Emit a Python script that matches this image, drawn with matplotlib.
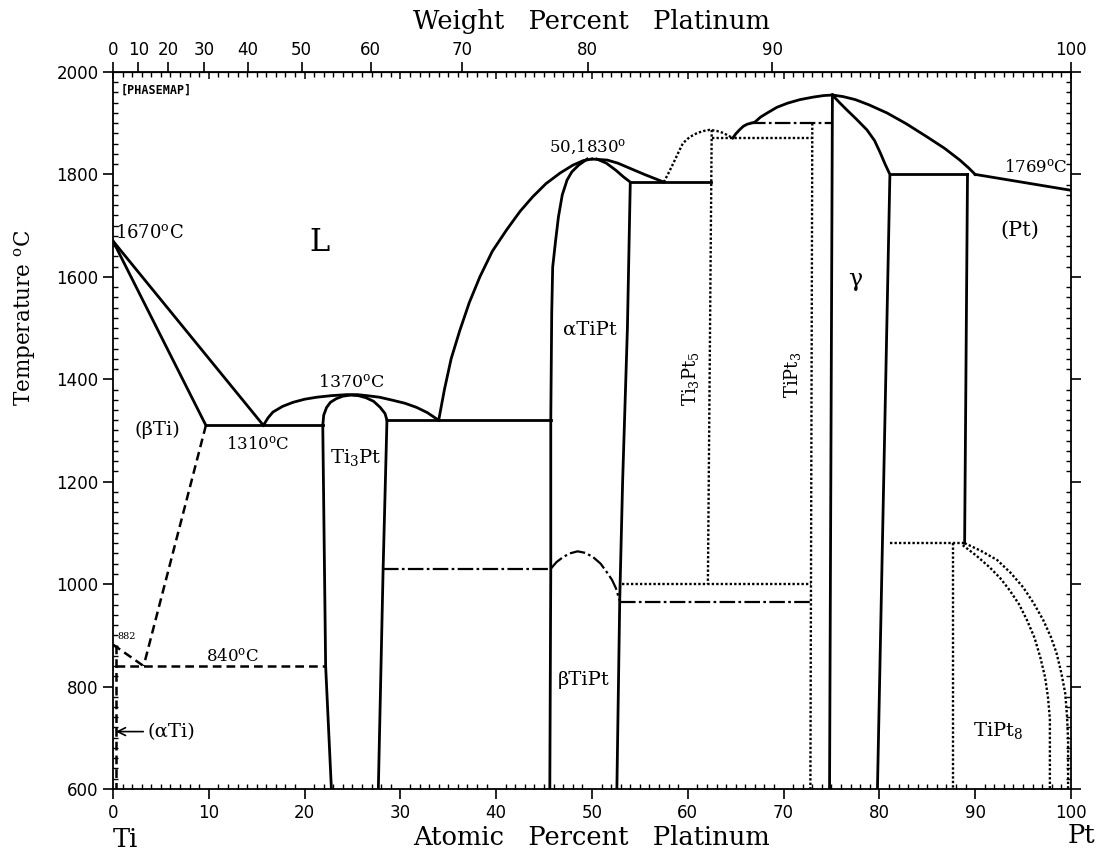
import numpy as np
import matplotlib.pyplot as plt
from matplotlib.ticker import MultipleLocator, FixedLocator, NullFormatter

plt.rcParams['mathtext.fontset'] = 'dejavuserif'

# atomic masses for the weight-percent scale
M_PT = 195.08
M_TI = 47.87

#### Phase boundaries (x = at.% Pt, T in deg C)

## solid lines
ti_liquidus_x = [0, 15.7]
ti_liquidus_t = [1670, 1310]
ti_solidus_x = [0, 9.7]
ti_solidus_t = [1670, 1310]
eut1310_x = [9.7, 21.9]
eut1310_t = [1310, 1310]
liq_ti3pt_x = [15.7, 16.2, 16.7, 17.7, 18.8, 20.0, 21.3, 22.8, 24.4, 25.5, 26.5,
               27.8, 29.2, 30.5, 31.7, 32.8, 34.0]
liq_ti3pt_t = [1310, 1325, 1336, 1347, 1355, 1361, 1365, 1368, 1370, 1370, 1368,
               1365, 1359, 1353, 1345, 1335, 1320]
ti3pt_dome_x = [21.9, 22.0, 22.3, 22.7, 23.3, 24.0, 24.8, 25.6, 26.4, 27.2, 27.9, 28.4, 28.6]
ti3pt_dome_t = [1310, 1330, 1345, 1355, 1362, 1367, 1369, 1368, 1364, 1357, 1345, 1333, 1320]
ti3pt_left_x = [21.9, 22.2, 22.8]
ti3pt_left_t = [1310, 840, 600]
ti3pt_right_x = [28.6, 28.2, 27.7]
ti3pt_right_t = [1320, 1030, 600]
eut1320_x = [28.6, 45.7]
eut1320_t = [1320, 1320]
liq_tipt_left_x = [34.0, 34.6, 35.3, 36.2, 37.2, 38.3, 39.6, 41.1, 42.5, 43.8, 45.2,
                   46.7, 48.0, 49.1, 50.0]
liq_tipt_left_t = [1320, 1380, 1440, 1495, 1550, 1600, 1650, 1692, 1728, 1756, 1782,
                   1803, 1818, 1827, 1830]
liq_tipt_right_x = [50.0, 51.6, 52.7, 53.7, 55.6, 57.5]
liq_tipt_right_t = [1830, 1828, 1822, 1814, 1799, 1785]
tipt_left_x = [49.5, 48.6, 47.9, 47.4, 46.9, 46.5, 46.2, 45.9, 45.8, 45.7, 45.7, 45.6]
tipt_left_t = [1830, 1818, 1805, 1789, 1760, 1717, 1670, 1619, 1530, 1320, 1030, 600]
tipt_right_x = [50.5, 51.5, 52.5, 53.3, 54.0, 53.7, 53.2, 52.9, 52.6]
tipt_right_t = [1830, 1822, 1808, 1795, 1785, 1500, 1200, 970, 600]
per1785_x = [54.0, 62.4]
per1785_t = [1785, 1785]
liq_tipt3_left_x = [64.7, 65.0, 65.4, 65.8, 66.2, 67.0, 67.6, 68.3, 69.3, 70.4, 71.7,
                    73.1, 74.2, 75.1]
liq_tipt3_left_t = [1871, 1879, 1887, 1894, 1898, 1902, 1912, 1920, 1931, 1939, 1946,
                    1951, 1954, 1955]
tipt3_x = [75.1, 74.8]
tipt3_t = [1955, 600]
liq_gamma_right_x = [75.1, 76.2, 77.5, 78.9, 80.8, 82.8, 85.0, 86.8, 88.4, 89.3, 90.0]
liq_gamma_right_t = [1955, 1952, 1946, 1936, 1920, 1899, 1873, 1851, 1828, 1813, 1800]
liq_pt_x = [90.0, 100.0]
liq_pt_t = [1800, 1769]
gamma_right_x = [75.1, 75.8, 76.6, 77.6, 78.7, 79.5, 80.1, 80.6, 81.1, 79.8]
gamma_right_t = [1955, 1941, 1926, 1908, 1887, 1866, 1842, 1820, 1800, 600]
eut1800_x = [81.1, 89.2]
eut1800_t = [1800, 1800]
pt_left_x = [89.2, 88.9]
pt_left_t = [1800, 1080]

## dashed lines
bti_solvus_x = [9.7, 3.2]
bti_solvus_t = [1310, 840]
bti_trans_x = [0.0, 3.2]
bti_trans_t = [882, 840]
eut840_x = [0.3, 22.2]
eut840_t = [840, 840]
ati_solvus_x = [0.3, 0.3]
ati_solvus_t = [882, 600]

## dash-dot lines
tr1030_x = [28.2, 45.7]
tr1030_t = [1030, 1030]
tipt_trans_x = [45.7, 46.3, 47.0, 47.7, 48.5, 49.3, 50.1, 50.9, 51.6, 52.1, 52.5, 52.9]
tipt_trans_t = [1030, 1043, 1053, 1060, 1064, 1061, 1053, 1040, 1022, 1008, 992, 967]
tr965_x = [52.9, 72.9]
tr965_t = [965, 965]
tr1900_x = [66.5, 75.0]
tr1900_t = [1900, 1900]

## dotted lines
ti3pt5_dome_x = [57.5, 58.0, 58.5, 59.0, 59.5, 60.2, 61.0, 61.7, 62.3, 63.0, 63.7, 64.2, 64.7]
ti3pt5_dome_t = [1785, 1803, 1822, 1842, 1861, 1873, 1881, 1885, 1887, 1885, 1881, 1876, 1871]
ti3pt5_x = [62.5, 62.1]
ti3pt5_t = [1887, 1000]
tr1871_x = [62.5, 73.0]
tr1871_t = [1871, 1871]
tipt3_left_x = [73.0, 72.8]
tipt3_left_t = [1900, 600]
tr1000_x = [53.1, 72.9]
tr1000_t = [1000, 1000]
tr1080_x = [81.1, 88.9]
tr1080_t = [1080, 1080]
tipt8_left_x = [87.7, 87.7]
tipt8_left_t = [1080, 600]
tipt8_right_x = [88.7, 90.1, 91.5, 92.6, 93.6, 94.6, 95.4, 96.2, 96.8, 97.3, 97.6, 97.8,
                 97.8, 97.8]
tipt8_right_t = [1076, 1056, 1033, 1012, 988, 960, 930, 895, 857, 818, 779, 737, 695, 600]
pt_solvus_x = [88.9, 90.6, 92.3, 93.7, 95.0, 96.1, 97.1, 97.9, 98.5, 99.0, 99.4, 99.6,
               99.7, 99.7]
pt_solvus_t = [1080, 1065, 1047, 1022, 994, 963, 930, 897, 865, 826, 787, 740, 695, 600]

# top scale labels (wt.% Pt)
wt_ticks = [0, 10, 20, 30, 40, 50, 60, 70, 80, 90, 100]


def at_to_wt(a):
    a = np.asarray(a, dtype=float)
    return 100 * M_PT * a / (M_PT * a + M_TI * (100 - a))


def wt_to_at(w):
    w = np.asarray(w, dtype=float)
    return 100 * (w / M_PT) / (w / M_PT + (100 - w) / M_TI)


solid = dict(color='black', lw=2.0)
dashed = dict(color='black', lw=1.8, ls=(0, (3.5, 2)))
dotted = dict(color='black', lw=1.7, ls=(0, (1, 0.9)))
dashdot = dict(color='black', lw=1.6, ls=(0, (7, 1.5, 1.2, 1.5)))

fig = plt.figure(figsize=(11, 8.57), dpi=100)
ax = fig.add_axes([0.1027, 0.0794, 0.8709, 0.8366])

for x, t in [(ti_liquidus_x, ti_liquidus_t), (ti_solidus_x, ti_solidus_t),
             (eut1310_x, eut1310_t), (liq_ti3pt_x, liq_ti3pt_t),
             (ti3pt_dome_x, ti3pt_dome_t), (ti3pt_left_x, ti3pt_left_t),
             (ti3pt_right_x, ti3pt_right_t), (eut1320_x, eut1320_t),
             (liq_tipt_left_x, liq_tipt_left_t), (liq_tipt_right_x, liq_tipt_right_t),
             (tipt_left_x, tipt_left_t), (tipt_right_x, tipt_right_t),
             (per1785_x, per1785_t), (liq_tipt3_left_x, liq_tipt3_left_t),
             (tipt3_x, tipt3_t), (liq_gamma_right_x, liq_gamma_right_t),
             (liq_pt_x, liq_pt_t), (gamma_right_x, gamma_right_t),
             (eut1800_x, eut1800_t), (pt_left_x, pt_left_t)]:
    ax.plot(x, t, solid_joinstyle='round', **solid)

for x, t in [(bti_solvus_x, bti_solvus_t), (bti_trans_x, bti_trans_t),
             (eut840_x, eut840_t), (ati_solvus_x, ati_solvus_t)]:
    ax.plot(x, t, **dashed)

for x, t in [(tr1030_x, tr1030_t), (tipt_trans_x, tipt_trans_t),
             (tr965_x, tr965_t), (tr1900_x, tr1900_t)]:
    ax.plot(x, t, **dashdot)

for x, t in [(ti3pt5_dome_x, ti3pt5_dome_t), (ti3pt5_x, ti3pt5_t),
             (tr1871_x, tr1871_t), (tipt3_left_x, tipt3_left_t),
             (tr1000_x, tr1000_t), (tr1080_x, tr1080_t),
             (tipt8_left_x, tipt8_left_t), (tipt8_right_x, tipt8_right_t),
             (pt_solvus_x, pt_solvus_t)]:
    ax.plot(x, t, **dotted)

#### Labels inside the diagram
serif = 'DejaVu Serif'
labels = [
    ("1670$^{\\rm o}$C", 0.2, 1686, 13, 'left', 0),
    ("L", 21.6, 1668, 22, 'center', 0),
    ("1370$^{\\rm o}$C", 24.9, 1393, 12.5, 'center', 0),
    ("(βTi)", 4.6, 1301, 14, 'center', 0),
    ("1310$^{\\rm o}$C", 15.1, 1271, 12, 'center', 0),
    ("Ti$_3$Pt", 25.3, 1248, 14, 'center', 0),
    ("50,1830$^{\\rm o}$", 49.6, 1854, 12, 'center', 0),
    ("αTiPt", 49.8, 1496, 14, 'center', 0),
    ("Ti$_3$Pt$_5$", 60.3, 1402, 13, 'center', 90),
    ("TiPt$_3$", 70.9, 1408, 13, 'center', 90),
    ("γ", 77.5, 1594, 17, 'center', 0),
    ("1769$^{\\rm o}$C", 96.3, 1812, 12, 'center', 0),
    ("(Pt)", 94.7, 1691, 15, 'center', 0),
    ("βTiPt", 49.1, 813, 14, 'center', 0),
    ("TiPt$_8$", 92.4, 715, 14, 'center', 0),
    ("840$^{\\rm o}$C", 12.5, 857, 12, 'center', 0),
    ("882", 0.5, 898, 7, 'left', 0),
]
for txt, x, t, size, ha, rot in labels:
    ax.text(x, t, txt, fontsize=size, family=serif, ha=ha, va='center', rotation=rot)

ax.annotate("(αTi)", xy=(0.3, 712), xytext=(3.6, 712), fontsize=14, family=serif,
            ha='left', va='center',
            arrowprops=dict(arrowstyle='->', color='black', lw=1.2, shrinkA=1, shrinkB=0))

ax.text(0.008, 0.975, "[PHASEMAP]", transform=ax.transAxes, fontsize=8.5,
        family='DejaVu Sans Mono', fontweight='bold', ha='left', va='center')

#### Axes
ax.set_xlim(0, 100)
ax.set_ylim(600, 2000)

ax.xaxis.set_major_locator(MultipleLocator(10))
ax.xaxis.set_minor_locator(MultipleLocator(1))
ax.yaxis.set_major_locator(MultipleLocator(200))
ax.yaxis.set_minor_locator(MultipleLocator(20))
ax.tick_params(which='major', direction='out', length=7, width=1.2, labelsize=12)
ax.tick_params(which='minor', direction='in', length=3.5, width=1.0)
ax.tick_params(axis='y', which='both', right=True)
ax.tick_params(axis='x', which='both', top=False)
for s in ax.spines.values():
    s.set_linewidth(1.3)

# top: at.% ticks without labels
sec_at = ax.secondary_xaxis('top')
sec_at.xaxis.set_major_locator(MultipleLocator(10))
sec_at.xaxis.set_minor_locator(MultipleLocator(1))
sec_at.xaxis.set_major_formatter(NullFormatter())
sec_at.tick_params(which='major', direction='in', length=5, width=1.1)
sec_at.tick_params(which='minor', direction='in', length=3.5, width=1.0)

# top: weight percent scale
sec_wt = ax.secondary_xaxis('top', functions=(at_to_wt, wt_to_at))
sec_wt.xaxis.set_major_locator(FixedLocator(wt_ticks))
sec_wt.xaxis.set_minor_locator(FixedLocator([]))
sec_wt.tick_params(which='major', direction='out', length=7, width=1.2, labelsize=12, pad=2)

axis_font = {'fontsize': 18.5, 'family': serif}
ax.set_xlabel("Atomic   Percent   Platinum", fontdict=axis_font)
ax.xaxis.set_label_coords(0.5, -0.068)
ax.xaxis.label.set_va('center')
ax.set_ylabel("Temperature $^{\\rm o}$C", fontsize=15.5, family=serif)
ax.yaxis.set_label_coords(-0.092, 0.657)
ax.yaxis.label.set_va('center')
ax.text(0.5, 1.07, "Weight   Percent   Platinum", transform=ax.transAxes,
        ha='center', va='center', **axis_font)

ax.text(0.0, -0.071, "Ti", transform=ax.transAxes, ha='left', va='center', **axis_font)
ax.text(1.025, -0.065, "Pt", transform=ax.transAxes, ha='right', va='center', **axis_font)

fig.savefig("out.png", dpi=100)
